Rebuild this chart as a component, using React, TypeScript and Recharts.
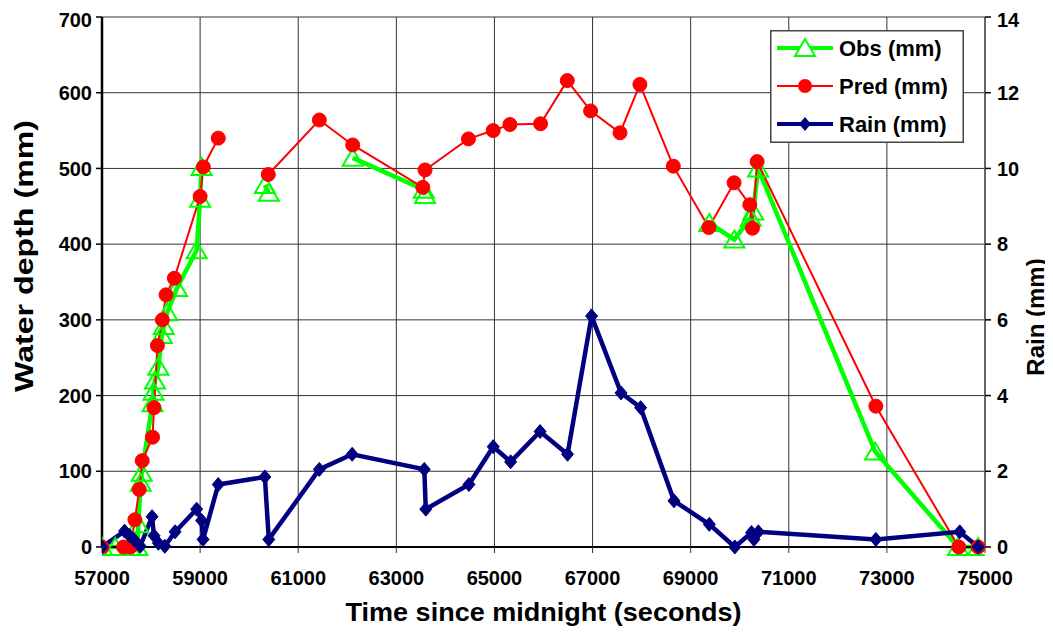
import React from 'react';
import { ComposedChart, Line, XAxis, YAxis, CartesianGrid, Legend } from 'recharts';

// Observed water depth (mm); null marks a break in the line
const obsTime = [57000, 57270, 57560, 57720, 57740, 57790, 57810, 58030, 58050, 58080, 58150, 58220, 58260, 58330, 58530, 58930, 59000, 59030, 59500, 60320, 60400, 61000, 62110, 63560, 63585, 66000, 69380, 69890, 70225, 70275, 70375, 72760, 74450, 74860];
const obsDepth = [0, 0, 0, 0, 30, 85, 98, 190, 205, 220, 238, 280, 292, 310, 342, 392, 460, 502, null, 478, 468, null, 514, 472, 465, null, 428, 406, 435, 443, 500, 126, 0, 0];

// Predicted water depth (mm)
const predTime = [57000, 57440, 57580, 57670, 57760, 57820, 58030, 58060, 58130, 58230, 58305, 58475, 59000, 59065, 59370, 59900, 60390, 61430, 62110, 63540, 63585, 64470, 64975, 65315, 65940, 66485, 66960, 67560, 67965, 68645, 69370, 69885, 70205, 70260, 70355, 72775, 74465, 74860];
const predDepth = [0, 0, 0, 36, 76, 114, 145, 184, 266, 300, 333, 355, 463, 502, 540, null, 492, 564, 531, 475, 498, 539, 550, 558, 559, 616, 576, 547, 611, 503, 422, 481, 452, 421, 509, 186, 0, 0];

// Rain (mm), right axis
const rainTime = [57000, 57460, 57560, 57650, 57780, 58020, 58060, 58150, 58280, 58490, 58930, 59030, 59060, 59370, 60320, 60400, 61430, 62100, 63570, 63600, 64480, 64975, 65330, 65930, 66490, 66980, 67580, 67980, 68660, 69380, 69900, 70240, 70290, 70380, 72775, 74485, 74860];
const rainDepth = [0, 0.42, 0.3, 0.2, 0.02, 0.8, 0.3, 0.1, 0.02, 0.4, 1.0, 0.7, 0.2, 1.65, 1.85, 0.2, 2.05, 2.45, 2.05, 1.0, 1.65, 2.65, 2.25, 3.05, 2.45, 6.1, 4.07, 3.68, 1.22, 0.6, 0, 0.38, 0.2, 0.4, 0.2, 0.4, 0];

const timeTicks = [57000, 59000, 61000, 63000, 65000, 67000, 69000, 71000, 73000, 75000];
const depthTicks = [0, 100, 200, 300, 400, 500, 600, 700];
const rainTicks = [0, 2, 4, 6, 8, 10, 12, 14];

const seriesNames = ['Obs (mm)', 'Pred (mm)', 'Rain (mm)'];

const obsData = obsTime.map((t, i) => ({ t, v: obsDepth[i] }));
const predData = predTime.map((t, i) => ({ t, v: predDepth[i] }));
const rainData = rainTime.map((t, i) => ({ t, v: rainDepth[i] }));

const GREEN = '#00ff00';
const RED = '#ff0000';
const NAVY = '#000080';
const FONT = '"Liberation Sans", Arial, sans-serif';

const ok = (p: any) => Number.isFinite(p.cx) && Number.isFinite(p.cy) && p.value != null;

const triPath = (cx: number, cy: number) => `M${cx},${cy - 9} L${cx + 10},${cy + 8} L${cx - 10},${cy + 8} Z`;
const diaPath = (cx: number, cy: number) => `M${cx},${cy - 7} L${cx + 6},${cy} L${cx},${cy + 7} L${cx - 6},${cy} Z`;

const TriDot = (p: any) =>
  ok(p) ? <path key={`o${p.index}`} d={triPath(p.cx, p.cy)} fill="none" stroke={GREEN} strokeWidth={2} /> : <g key={`o${p.index}`} />;
const CircDot = (p: any) =>
  ok(p) ? <circle key={`p${p.index}`} cx={p.cx} cy={p.cy} r={7} fill={RED} stroke={RED} strokeWidth={1} /> : <g key={`p${p.index}`} />;
const DiaDot = (p: any) =>
  ok(p) ? <path key={`r${p.index}`} d={diaPath(p.cx, p.cy)} fill={NAVY} stroke={NAVY} strokeWidth={1} /> : <g key={`r${p.index}`} />;

const titleStyle = { fontFamily: FONT, fontWeight: 'bold' as const, fill: '#000' };

const XTitle = (props: any) => {
  const { x, y, width } = props.viewBox;
  return (
    <text x={x + width / 2} y={y + 65} textAnchor="middle" dominantBaseline="central" textLength={396} lengthAdjust="spacingAndGlyphs" style={{ ...titleStyle, fontSize: 26 }}>
      Time since midnight (seconds)
    </text>
  );
};
const LeftTitle = (props: any) => {
  const { x, y } = props.viewBox;
  const cx = x + 16;
  const cy = y + 239;
  return (
    <text x={cx} y={cy} transform={`rotate(-90 ${cx} ${cy})`} textAnchor="middle" dominantBaseline="central" textLength={272} lengthAdjust="spacingAndGlyphs" style={{ ...titleStyle, fontSize: 25 }}>
      Water depth (mm)
    </text>
  );
};
const RightTitle = (props: any) => {
  const { x, y } = props.viewBox;
  const cx = x + 50;
  const cy = y + 300;
  return (
    <text x={cx} y={cy} transform={`rotate(-90 ${cx} ${cy})`} textAnchor="middle" dominantBaseline="central" style={{ ...titleStyle, fontSize: 24 }}>
      Rain (mm)
    </text>
  );
};

const LegendBox = () => {
  const rows = [18, 56, 94];
  return (
    <svg width={194} height={113} style={{ display: 'block' }}>
      <rect x={0.75} y={0.75} width={192.5} height={111.5} fill="#fff" stroke="#444" strokeWidth={1.5} />
      <line x1={7} x2={63} y1={rows[0]} y2={rows[0]} stroke={GREEN} strokeWidth={4} />
      <path d={triPath(35, rows[0])} fill="#fff" stroke={GREEN} strokeWidth={2} />
      <line x1={7} x2={63} y1={rows[1]} y2={rows[1]} stroke={RED} strokeWidth={2} />
      <circle cx={35} cy={rows[1]} r={7} fill={RED} />
      <line x1={7} x2={63} y1={rows[2]} y2={rows[2]} stroke={NAVY} strokeWidth={4} />
      <path d={diaPath(35, rows[2])} fill={NAVY} />
      {seriesNames.map((n, i) => (
        <text key={n} x={69} y={rows[i]} dominantBaseline="central" style={{ ...titleStyle, fontSize: 22 }}>
          {n}
        </text>
      ))}
    </svg>
  );
};

const tickStyle = { fontFamily: FONT, fontWeight: 'bold' as const, fontSize: 20, fill: '#000' };

export default function App() {
  return (
    <ComposedChart width={1045} height={624} margin={{ top: 9, right: 0, bottom: 0, left: 0 }} style={{ background: '#fff' }}>
      <CartesianGrid stroke="#333" strokeWidth={1} horizontalValues={depthTicks} verticalValues={timeTicks} yAxisId="left" />
      <XAxis
        dataKey="t"
        type="number"
        domain={[57000, 75000]}
        ticks={timeTicks}
        allowDataOverflow
        height={85}
        tick={tickStyle}
        tickSize={6}
        tickMargin={18}
        axisLine={{ stroke: '#000', strokeWidth: 2 }}
        tickLine={{ stroke: '#333' }}
        label={<XTitle />}
      />
      <YAxis
        yAxisId="left"
        orientation="left"
        type="number"
        domain={[0, 700]}
        ticks={depthTicks}
        width={94}
        tick={tickStyle}
        tickSize={6}
        tickMargin={4}
        axisLine={{ stroke: '#000', strokeWidth: 2.5 }}
        tickLine={{ stroke: '#000', strokeWidth: 1.5 }}
        label={<LeftTitle />}
      />
      <YAxis
        yAxisId="right"
        orientation="right"
        type="number"
        domain={[0, 14]}
        ticks={rainTicks}
        width={68}
        tick={tickStyle}
        tickSize={6}
        tickMargin={6}
        axisLine={{ stroke: '#666', strokeWidth: 2 }}
        tickLine={{ stroke: '#000', strokeWidth: 1.5 }}
        label={<RightTitle />}
      />
      <Legend
        layout="vertical"
        align="center"
        verticalAlign="middle"
        content={() => <LegendBox />}
        wrapperStyle={{ position: 'absolute', left: 762, top: 22, width: 194, height: 113 }}
      />
      <Line
        yAxisId="left"
        data={obsData}
        dataKey="v"
        name={seriesNames[0]}
        stroke={GREEN}
        strokeWidth={4.5}
        dot={TriDot}
        activeDot={false}
        isAnimationActive={false}
        connectNulls={false}
      />
      <Line
        yAxisId="left"
        data={predData}
        dataKey="v"
        name={seriesNames[1]}
        stroke={RED}
        strokeWidth={2}
        dot={CircDot}
        activeDot={false}
        isAnimationActive={false}
        connectNulls={false}
      />
      <Line
        yAxisId="right"
        data={rainData}
        dataKey="v"
        name={seriesNames[2]}
        stroke={NAVY}
        strokeWidth={4.5}
        dot={DiaDot}
        activeDot={false}
        isAnimationActive={false}
      />
    </ComposedChart>
  );
}
